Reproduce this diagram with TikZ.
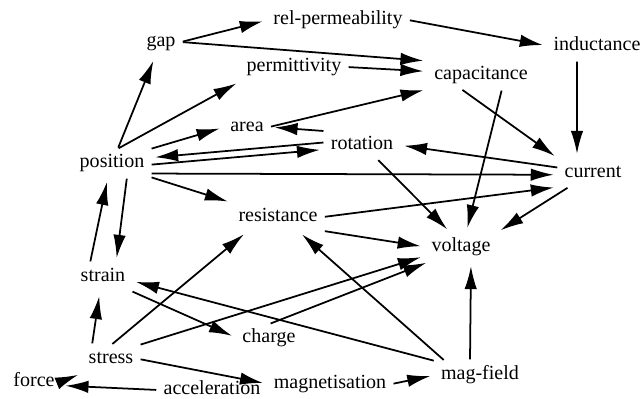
\documentclass[tikz,border=0pt]{standalone}
\usepackage{fontspec}
\setmainfont{Liberation Serif}
\usetikzlibrary{arrows.meta, positioning}

\tikzset{
  var/.style={inner sep=3pt, text height=1.6ex, text depth=.45ex,
              font=\fontsize{11.4}{13}\selectfont},
  arr/.style={-{Latex[length=4.6mm, width=2.5mm]}, line width=1pt,
              shorten >=3pt, shorten <=1pt}
}

\begin{document}
\begin{tikzpicture}
  \useasboundingbox (0,0) rectangle (12.84,7.96);

  % Quantities
  \node[var] (gap)      at (3.22, 7.12) {gap};
  \node[var] (relperm)  at (6.76, 7.56) {rel-permeability};
  \node[var] (induct)   at (11.94, 7.04) {inductance};
  \node[var] (permit)   at (5.88, 6.62) {permittivity};
  \node[var] (capac)    at (9.62, 6.46) {capacitance};
  \node[var] (area)     at (4.94, 5.42) {area};
  \node[var] (rot)      at (7.24, 5.06) {rotation};
  \node[var] (pos)      at (2.24, 4.70) {position};
  \node[var] (curr)     at (11.86, 4.50) {current};
  \node[var] (resist)   at (5.56, 3.62) {resistance};
  \node[var] (volt)     at (9.22, 3.02) {voltage};
  \node[var] (strain)   at (2.06, 2.42) {strain};
  \node[var] (charge)   at (5.38, 1.20) {charge};
  \node[var] (stress)   at (2.22, 0.78) {stress};
  \node[var] (force)    at (0.68, 0.32) {force};
  \node[var] (accel)    at (4.24, 0.16) {acceleration};
  \node[var] (magn)     at (6.60, 0.28) {magnetisation};
  \node[var] (magfield) at (9.60, 0.46) {mag-field};

  % Upper part
  \draw[arr] (gap.east) -- (relperm.west);
  \draw[arr] (gap.east) -- (capac.north west);
  \draw[arr] (permit.east) -- ([yshift=2pt]capac.west);
  \draw[arr] (relperm.east) -- (induct.west);
  \draw[arr] ([xshift=-0.4cm]induct.south) -- ([xshift=-0.32cm]curr.north);
  \draw[arr] (pos) -- (gap);
  \draw[arr] (pos.70) -- (permit.south west);
  \draw[arr] (pos.north east) -- (area.west);
  \draw[arr] (area.east) -- (capac.south west);
  \draw[arr] (rot.north west) -- (area.east);
  \draw[arr] ([yshift=1.5pt]rot.west) -- ([yshift=3pt]pos.east);
  \draw[arr] ([yshift=-1pt]pos.east) -- ([yshift=-2.5pt]rot.west);
  \draw[arr] ([yshift=-6pt]pos.east) -- ([yshift=-1pt]curr.west);
  \draw[arr] (pos.south east) -- (resist.north west);
  \draw[arr] ([yshift=3pt]curr.west) -- (rot.east);
  \draw[arr] ([xshift=-0.4cm]capac.south) -- (curr.north west);
  \draw[arr] ([xshift=0.42cm]capac.south) -- ([xshift=0.1cm]volt.north);
  \draw[arr] ([xshift=0.3cm]rot.south) -- ([xshift=-0.2cm]volt.north);
  \draw[arr] (resist.east) -- (curr.south west);
  \draw[arr] ([xshift=0.2cm]curr.south west) -- (volt.north east);
  \draw[arr] (resist.south east) -- (volt.west);

  % Lower part
  \draw[arr] ([xshift=0.3cm]pos.south) -- ([xshift=0.26cm]strain.north);
  \draw[arr] ([xshift=-0.26cm]strain.north) -- ([xshift=-0.08cm]pos.south);
  \draw[arr] ([xshift=-0.38cm]stress.north) -- ([xshift=-0.06cm]strain.south);
  \draw[arr] (strain.south east) -- (charge.west);
  \draw[arr] (stress.north) -- ([xshift=-0.6cm]resist.south);
  \draw[arr] (stress.north east) -- ([yshift=3pt]volt.south west);
  \draw[arr] (charge.north) -- ([xshift=3pt]volt.south west);
  \draw[arr] (magfield.north west) -- ([yshift=-2pt]strain.east);
  \draw[arr] ([xshift=-0.7cm]magfield.north) -- ([xshift=0.4cm]resist.south);
  \draw[arr] ([xshift=-0.2cm]magfield.north) -- ([xshift=0.2cm]volt.south);
  \draw[arr] (stress.east) -- (magn.west);
  \draw[arr] (magn.east) -- (magfield.west);
  \draw[arr] (force.east) -- (stress.south west);
  \draw[arr] (accel.west) -- ([yshift=-2pt]force.east);
\end{tikzpicture}
\end{document}
